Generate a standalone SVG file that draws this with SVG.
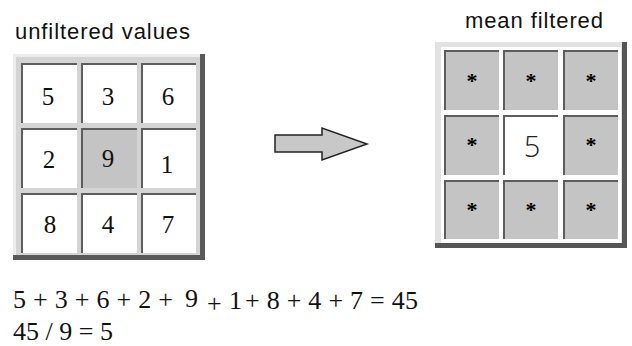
<svg xmlns="http://www.w3.org/2000/svg" width="632" height="346" viewBox="0 0 632 346">
<style>
.lbl{font-family:"Liberation Sans",Arial,sans-serif;font-size:22px;fill:#111}
.num{font-family:"Liberation Serif","Times New Roman",serif;font-size:25px;fill:#111;text-anchor:middle}
.eq{font-size:26px;fill:#111}
.ast{font-family:"Liberation Serif","Times New Roman",serif;font-size:22px;font-weight:bold;fill:#000;text-anchor:middle}
.cellw{fill:#fff}
.cellg{fill:#c4c4c4}
.dk{fill:#5e5e5e}
</style>
<rect width="632" height="346" fill="#fff"/>
<text class="lbl" x="15" y="39" textLength="175">unfiltered values</text>
<text class="lbl" x="465" y="28" textLength="138">mean filtered</text>

<g id="left-grid">
  <rect x="13" y="54" width="192" height="206" fill="#d4d4d4"/>
  <rect x="13" y="54" width="192" height="3" fill="#ececec"/>
  <rect x="13" y="54" width="3" height="206" fill="#ececec"/>
  <rect x="200" y="54" width="5" height="206" fill="#5a5a5a"/>
  <rect x="13" y="255" width="192" height="5" fill="#5a5a5a"/>
  <g id="l-c1"><rect class="cellw" x="21" y="63" width="56" height="60"/><rect class="dk" x="21" y="63" width="56" height="2"/><rect class="dk" x="21" y="63" width="2" height="60"/><text class="num" x="48" y="105">5</text></g>
  <g id="l-c2"><rect class="cellw" x="81" y="63" width="56" height="60"/><rect class="dk" x="81" y="63" width="56" height="2"/><rect class="dk" x="81" y="63" width="2" height="60"/><text class="num" x="108" y="105">3</text></g>
  <g id="l-c3"><rect class="cellw" x="141" y="63" width="55" height="60"/><rect class="dk" x="141" y="63" width="55" height="2"/><rect class="dk" x="141" y="63" width="2" height="60"/><text class="num" x="168" y="105">6</text></g>
  <g id="l-c4"><rect class="cellw" x="21" y="128" width="56" height="60"/><rect class="dk" x="21" y="128" width="56" height="2"/><rect class="dk" x="21" y="128" width="2" height="60"/><text class="num" x="49" y="168">2</text></g>
  <g id="l-c5"><rect class="cellg" x="81" y="128" width="56" height="60"/><rect class="dk" x="81" y="128" width="56" height="2"/><rect class="dk" x="81" y="128" width="2" height="60"/><text class="num" x="108" y="167">9</text></g>
  <g id="l-c6"><rect class="cellw" x="141" y="128" width="55" height="60"/><rect class="dk" x="141" y="128" width="55" height="2"/><rect class="dk" x="141" y="128" width="2" height="60"/><text class="num" x="167" y="173">1</text></g>
  <g id="l-c7"><rect class="cellw" x="21" y="193" width="56" height="60"/><rect class="dk" x="21" y="193" width="56" height="2"/><rect class="dk" x="21" y="193" width="2" height="60"/><text class="num" x="50" y="233">8</text></g>
  <g id="l-c8"><rect class="cellw" x="81" y="193" width="56" height="60"/><rect class="dk" x="81" y="193" width="56" height="2"/><rect class="dk" x="81" y="193" width="2" height="60"/><text class="num" x="108" y="233">4</text></g>
  <g id="l-c9"><rect class="cellw" x="141" y="193" width="55" height="60"/><rect class="dk" x="141" y="193" width="55" height="2"/><rect class="dk" x="141" y="193" width="2" height="60"/><text class="num" x="168" y="233">7</text></g>
</g>

<g id="connectors">
  <polygon points="275,135 322,135 322,128 367,144 322,160 322,152 275,152" fill="#c8c8c8" stroke="#222" stroke-width="1.5"/>
</g>

<g id="right-grid">
  <rect x="435" y="42" width="192" height="206" fill="#e2e2e2"/>
  <rect x="441" y="47" width="180" height="196" fill="#fff"/>
  <rect x="622" y="42" width="5" height="206" fill="#555"/>
  <rect x="435" y="243" width="192" height="5" fill="#555"/>
  <g id="r-c1"><rect class="cellg" x="444" y="50" width="55" height="60"/><rect class="dk" x="444" y="50" width="55" height="2"/><rect class="dk" x="444" y="50" width="2" height="60"/><text class="ast" x="472" y="88">*</text></g>
  <g id="r-c2"><rect class="cellg" x="503" y="50" width="55" height="60"/><rect class="dk" x="503" y="50" width="55" height="2"/><rect class="dk" x="503" y="50" width="2" height="60"/><text class="ast" x="531" y="88">*</text></g>
  <g id="r-c3"><rect class="cellg" x="563" y="50" width="55" height="60"/><rect class="dk" x="563" y="50" width="55" height="2"/><rect class="dk" x="563" y="50" width="2" height="60"/><text class="ast" x="591" y="88">*</text></g>
  <g id="r-c4"><rect class="cellg" x="444" y="115" width="55" height="60"/><rect class="dk" x="444" y="115" width="55" height="2"/><rect class="dk" x="444" y="115" width="2" height="60"/><text class="ast" x="472" y="152">*</text></g>
  <g id="r-c5"><rect class="cellw" x="503" y="115" width="55" height="60"/><rect class="dk" x="503" y="115" width="55" height="2"/><rect class="dk" x="503" y="115" width="2" height="60"/><text x="532" y="157" font-family="'Open Sans','Liberation Sans',sans-serif" font-size="29" font-weight="300" fill="#222" text-anchor="middle">5</text></g>
  <g id="r-c6"><rect class="cellg" x="563" y="115" width="55" height="60"/><rect class="dk" x="563" y="115" width="55" height="2"/><rect class="dk" x="563" y="115" width="2" height="60"/><text class="ast" x="591" y="152">*</text></g>
  <g id="r-c7"><rect class="cellg" x="444" y="180" width="55" height="59"/><rect class="dk" x="444" y="180" width="55" height="2"/><rect class="dk" x="444" y="180" width="2" height="59"/><text class="ast" x="472" y="217">*</text></g>
  <g id="r-c8"><rect class="cellg" x="503" y="180" width="55" height="59"/><rect class="dk" x="503" y="180" width="55" height="2"/><rect class="dk" x="503" y="180" width="2" height="59"/><text class="ast" x="531" y="217">*</text></g>
  <g id="r-c9"><rect class="cellg" x="563" y="180" width="55" height="59"/><rect class="dk" x="563" y="180" width="55" height="2"/><rect class="dk" x="563" y="180" width="2" height="59"/><text class="ast" x="591" y="217">*</text></g>
</g>

<g id="equations" font-family="'Liberation Serif','Times New Roman',serif">
  <text class="eq" x="13" y="308" textLength="160">5 + 3 + 6 + 2 +</text>
  <text class="eq" x="185" y="307">9</text>
  <text class="eq" x="207" y="312">+</text>
  <text class="eq" x="229" y="309">1</text>
  <text class="eq" x="245" y="309" textLength="173">+ 8 + 4 + 7 = 45</text>
  <text class="eq" x="13" y="340" textLength="100">45 / 9 = 5</text>
</g>
</svg>
